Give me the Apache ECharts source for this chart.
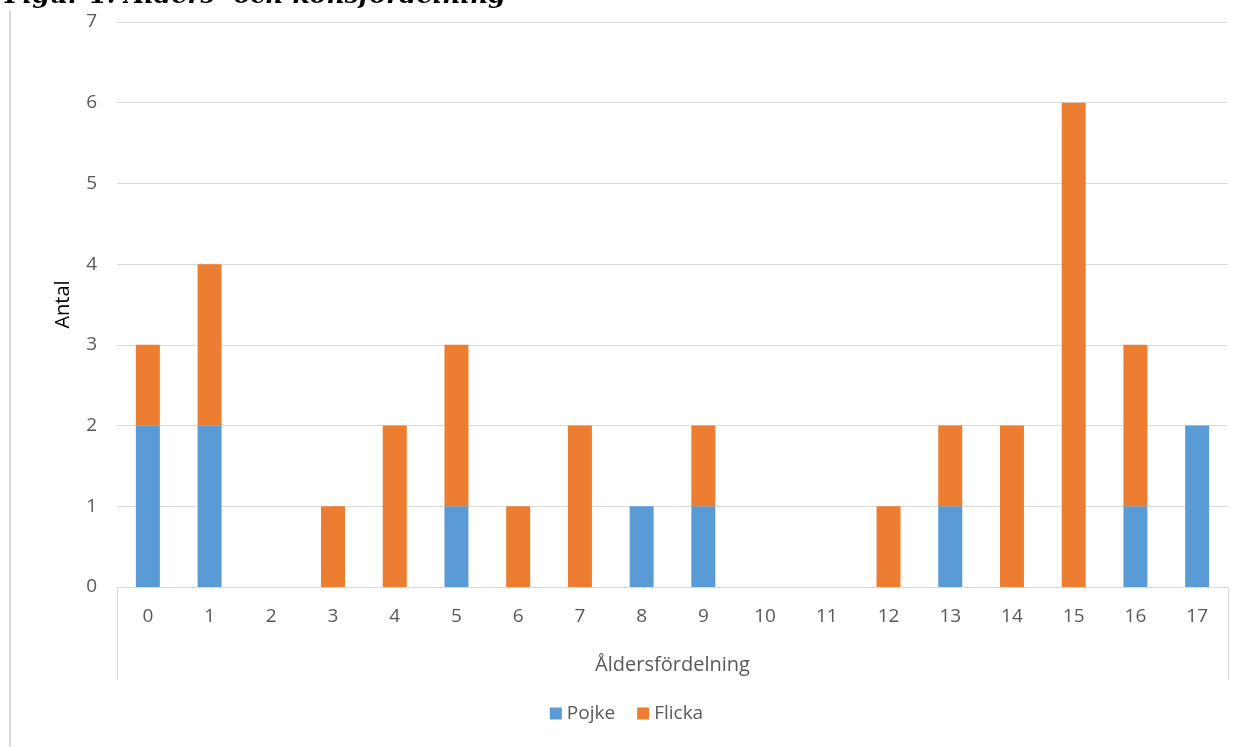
<!DOCTYPE html>
<html>
<head>
<meta charset="utf-8">
<script src="https://cdn.jsdelivr.net/npm/echarts@6/dist/echarts.min.js"></script>
<style>
  html, body { margin: 0; padding: 0; background: #fff; }
  #chart { width: 1253px; height: 747px; }
</style>
</head>
<body>
<div id="chart"></div>
<script>
// ålder 0-17, antal per kön
var ages = ['0','1','2','3','4','5','6','7','8','9','10','11','12','13','14','15','16','17']
var pojke = [2, 2, 0, 0, 0, 1, 0, 0, 1, 1, 0, 0, 0, 1, 0, 0, 1, 2]
var flicka = [1, 2, 0, 1, 2, 2, 1, 2, 0, 1, 0, 0, 1, 1, 2, 6, 2, 0]

var font = 'Open Sans'
var grey = '#595959'

var myChart = echarts.init(document.getElementById('chart'))
var option = {
    animation: false,
    textStyle: { fontFamily: font },
    title: {
        text: 'Figur 1: Ålders- och könsfördelning',
        left: 0,
        top: -21,
        textStyle: {
            fontFamily: 'DejaVu Serif',
            fontStyle: 'italic',
            fontWeight: 'bold',
            fontSize: 25,
            color: '#000'
        }
    },
    color: ['#5B9BD5', '#ED7D31'],
    legend: {
        bottom: 19,
        left: 'center',
        itemWidth: 12,
        itemHeight: 12,
        itemGap: 22,
        icon: 'rect',
        textStyle: { color: grey, fontSize: 19, fontFamily: font },
        data: ['Pojke', 'Flicka']
    },
    grid: { left: 117, right: 25, top: 22, bottom: 160 },
    xAxis: {
        type: 'category',
        data: ages,
        name: 'Åldersfördelning',
        nameLocation: 'middle',
        nameGap: 68,
        nameTextStyle: { color: grey, fontSize: 20, fontFamily: font },
        axisLine: { lineStyle: { color: '#d9d9d9' } },
        axisTick: { show: false },
        axisLabel: { color: grey, fontSize: 19, margin: 20 }
    },
    yAxis: {
        type: 'value',
        min: 0,
        max: 7,
        interval: 1,
        name: 'Antal',
        nameLocation: 'middle',
        nameGap: 44,
        nameTextStyle: { color: '#000', fontSize: 20, fontFamily: font },
        axisLine: { show: false },
        axisTick: { show: false },
        axisLabel: { color: grey, fontSize: 19, margin: 20 },
        splitLine: { lineStyle: { color: '#d9d9d9' } }
    },
    series: [
        { name: 'Pojke', type: 'bar', stack: 'kön', barWidth: 24, data: pojke },
        { name: 'Flicka', type: 'bar', stack: 'kön', barWidth: 24, data: flicka }
    ],
    graphic: [
        { type: 'line', shape: { x1: 10, y1: 10, x2: 10, y2: 747 }, style: { stroke: '#d9d9d9', lineWidth: 2 } },
        { type: 'line', shape: { x1: 117.5, y1: 587, x2: 117.5, y2: 680 }, style: { stroke: '#d9d9d9', lineWidth: 1 } },
        { type: 'line', shape: { x1: 1228.5, y1: 587, x2: 1228.5, y2: 680 }, style: { stroke: '#d9d9d9', lineWidth: 1 } }
    ]
}
myChart.setOption(option)
</script>
</body>
</html>
